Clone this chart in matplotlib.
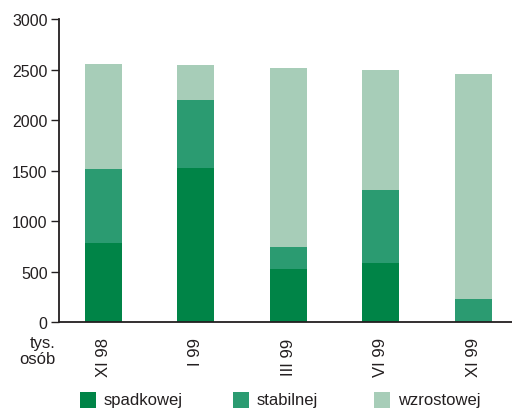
import matplotlib
matplotlib.use("Agg")
import matplotlib.pyplot as plt
from matplotlib.patches import Rectangle
import numpy as np

plt.rcParams['font.family'] = ['Liberation Sans', 'DejaVu Sans']

periods = ["XI 98", "I 99", "III 99", "VI 99", "XI 99"]
series_names = ["spadkowej", "stabilnej", "wzrostowej"]
spadkowej = [780, 1525, 525, 585, 0]
stabilnej = [740, 675, 215, 725, 230]
wzrostowej = [1040, 345, 1775, 1185, 2225]
yticks = [0, 500, 1000, 1500, 2000, 2500, 3000]

colors = ["#008447", "#2b9b71", "#a7cdb8"]
text_color = "#231f20"
fs_y = 11.5
fs = 12

fig = plt.figure(figsize=(5.12, 4.10), dpi=100)
ax = fig.add_axes([0.1146, 0.212, 0.8854, 0.739])

x = np.arange(len(periods))
bottom = np.zeros(len(periods))
for vals, col in zip([spadkowej, stabilnej, wzrostowej], colors):
    ax.bar(x, vals, width=0.4, bottom=bottom, color=col, linewidth=0)
    bottom += np.array(vals)

ax.set_xlim(-0.48, 4.42)
ax.set_ylim(0, 3000)
ax.set_yticks(yticks)
ax.set_yticklabels([str(v) for v in yticks], fontsize=fs_y, color=text_color)
ax.set_xticks(x)
ax.set_xticklabels(periods, rotation=90, fontsize=fs, color=text_color, va='top')
ax.tick_params(axis='x', length=0, pad=11)
ax.tick_params(axis='y', length=6, width=1, color=text_color, pad=2)

for side in ['top', 'right']:
    ax.spines[side].set_visible(False)
ax.spines['left'].set_color(text_color)
ax.spines['left'].set_linewidth(1.3)
ax.spines['bottom'].set_color(text_color)
ax.spines['bottom'].set_linewidth(1.3)

fig.text(55 / 512, 1 - 336 / 410, "tys.\nosób", ha='right', va='top',
         fontsize=fs, color=text_color, linespacing=1.05)

# legend row along the bottom edge
legend_x = [80, 233, 374]
for name, col, px in zip(series_names, colors, legend_x):
    fig.add_artist(Rectangle((px / 512, 1 - 409 / 410), 16 / 512, 16 / 410,
                             transform=fig.transFigure, color=col, lw=0))
    fig.text((px + 24) / 512, 1 - 401 / 410, name, ha='left', va='center',
             fontsize=fs, color=text_color)

fig.savefig("out.png", dpi=100)
